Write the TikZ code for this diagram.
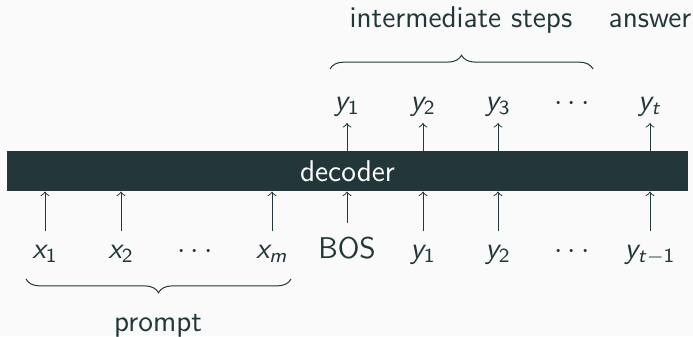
\documentclass[tikz,border=0pt]{standalone}
\usetikzlibrary{positioning, decorations.pathreplacing}

\definecolor{mDark}{HTML}{23373B}
\definecolor{mBg}{HTML}{FAFAFA}

% sans serif math letters and digits
\DeclareSymbolFont{letters}{OT1}{cmss}{m}{sl}
\DeclareSymbolFont{operators}{OT1}{cmss}{m}{n}

\begin{document}
\begin{tikzpicture}[
      x=0.4pt, y=0.4pt,
      font=\fontsize{12}{14}\selectfont\sffamily, text=mDark,
      bar/.style={fill=mDark, text=white, minimum width=272.4pt,
      minimum height=16pt, inner sep=0pt},
      tok/.style={anchor=base, inner sep=3.67pt},
      line/.style={draw=mDark, ->, line width=0.4pt},
      brace/.style={draw=mDark, line width=0.4pt, decorate,
      decoration={brace, amplitude=5.5pt}}
    ]
    \fill[mBg] (0,0) rectangle (693,336);
    \useasboundingbox (0,0) rectangle (693,336);

    % Decoder
    \node [bar] (decoder) at (347.5,165) {decoder};

    % Inputs
    \node [tok] (x1) at (45,78) {$x_1$};
    \node [tok] (x2) at (121,78) {$x_2$};
    \node [tok] (xdots) at (195,78) {$\cdots$};
    \node [tok] (xm) at (272,78) {$x_m$};
    \node [tok] (bos) at (347,78) {BOS};
    \node [tok] (in1) at (423,78) {$y_1$};
    \node [tok] (in2) at (498,78) {$y_2$};
    \node [tok] (indots) at (572,78) {$\cdots$};
    \node [tok] (inlast) at (650,78) {$y_{t-1}$};

    % Outputs
    \node [tok] (out1) at (347,226) {$y_1$};
    \node [tok] (out2) at (423,226) {$y_2$};
    \node [tok] (out3) at (498,226) {$y_3$};
    \node [tok] (outdots) at (572,226) {$\cdots$};
    \node [tok] (outlast) at (650,226) {$y_t$};

    % Labels
    \node [anchor=base] (steps) at (461,309) {intermediate steps};
    \node [anchor=base] (answer) at (650,309) {answer};
    \node [anchor=base] (prompt) at (158,5) {prompt};

    % Paths
    \foreach \n in {x1, x2, xm, bos, in1, in2, inlast}
      \path [line, shorten <=1.5pt] (\n.north) -- (\n.north |- decoder.south);
    \foreach \n in {out1, out2, out3, outlast}
      \path [line, shorten >=-1pt] (\n.south |- decoder.north) -- (\n.south);

    % Braces
    \draw [brace] (330,267) -- (593,267);
    \draw [brace] (291,57) -- (26,57);
  \end{tikzpicture}
\end{document}
